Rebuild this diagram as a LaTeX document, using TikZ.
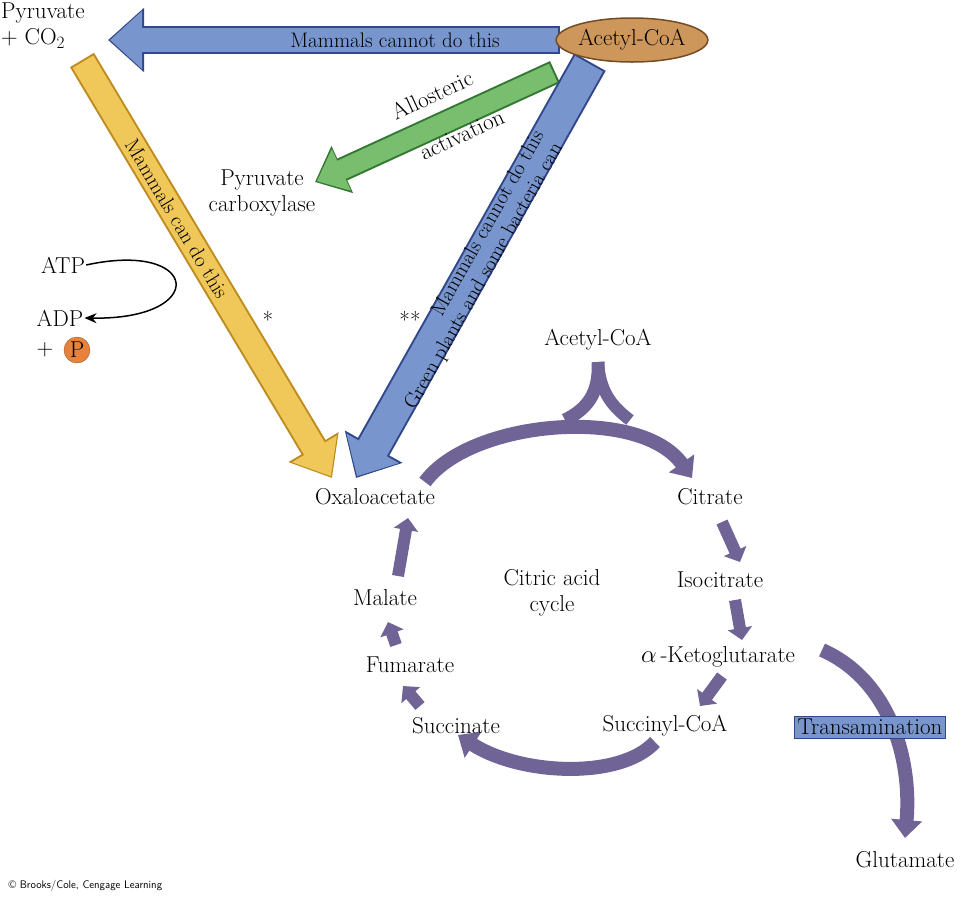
\documentclass[tikz,border=0pt]{standalone}
\usepackage{fontspec}
\usetikzlibrary{arrows.meta,calc,shapes.geometric}
\definecolor{cyc}{RGB}{112,100,150}
\definecolor{bl}{RGB}{120,150,205}
\definecolor{bld}{RGB}{50,70,140}
\definecolor{yl}{RGB}{240,200,90}
\definecolor{yld}{RGB}{190,140,30}
\definecolor{gr}{RGB}{120,190,110}
\definecolor{grd}{RGB}{50,120,50}
\definecolor{tan}{RGB}{205,150,90}
\definecolor{org}{RGB}{230,130,60}
\begin{document}
\begin{tikzpicture}[x=1pt,y=-1pt,
  lbl/.style={font=\fontsize{23}{26}\selectfont,inner sep=1pt,text=black},
  dl/.style={font=\fontsize{21}{24}\selectfont,inner sep=1pt,text=black},
  cyca/.style={draw=cyc,line width=14pt,-{Triangle[width=30pt,length=18pt]}},
  sm/.style={draw=cyc,line width=12pt,-{Triangle[width=24pt,length=12pt]}}]
\useasboundingbox (0,0) rectangle (966,898);
% coordinates
\coordinate (bs) at (560,40); \coordinate (bt) at (108,40);
\coordinate (gs) at (555,72); \coordinate (gt) at (315,182);
\coordinate (ys) at (82,60); \coordinate (yt) at (332,478);
\coordinate (ds) at (590,62); \coordinate (dt) at (356,478);
% blue top arrow
\draw[bld,line width=28pt,-{Triangle[width=62pt,length=36pt]}] (bs) -- (bt);
\draw[bl,line width=24pt,-{Triangle[width=56pt,length=32pt]},shorten >=2pt] ($(bs)+(-2,0)$) -- (bt);
\node[dl] (t1) at (395,40) {Mammals cannot do this};
% green arrow
\draw[grd,line width=24pt,-{Triangle[width=50pt,length=30pt]}] (gs) -- (gt);
\draw[gr,line width=20pt,-{Triangle[width=44pt,length=27pt]},shorten >=2pt] ($(gs)!2pt!(gt)$) -- (gt);
% yellow arrow
\draw[yld,line width=28pt,-{Triangle[width=56pt,length=36pt]}] (ys) -- (yt);
\draw[yl,line width=24pt,-{Triangle[width=50pt,length=32pt]},shorten >=2pt] ($(ys)!2pt!(yt)$) -- (yt);
\path (ys) -- (yt) node[dl,pos=0.38,sloped] (t2) {Mammals can do this};
% blue diagonal
\draw[bld,line width=36pt,-{Triangle[width=64pt,length=36pt]}] (ds) -- (dt);
\draw[bl,line width=32pt,-{Triangle[width=58pt,length=32pt]},shorten >=2pt] ($(ds)!2pt!(dt)$) -- (dt);
\path (dt) -- (ds) node[dl,pos=0.6,sloped,yshift=11pt] (t3) {Mammals cannot do this}
  node[dl,pos=0.5,sloped,yshift=-13pt] (t4) {Green plants and some bacteria can};
% acetyl-CoA ellipse
\node[lbl,draw=brown!60!black,line width=1.5pt,fill=tan,ellipse,minimum width=140pt,minimum height=44pt,inner sep=0pt] (ac) at (632,40) {Acetyl-CoA};
\node[lbl,align=left,anchor=north west] (pyr) at (0,2) {Pyruvate\\+ CO$_2$};
\node[lbl,rotate=25] (al) at (432,95) {Allosteric};
\node[lbl,rotate=25] (av) at (462,135) {activation};
\node[lbl,align=center] (pc) at (262,193) {Pyruvate\\carboxylase};
% ATP
\node[lbl] (atp) at (63,265) {ATP};
\node[lbl] (adp) at (60,318) {ADP};
\node[lbl] (plus) at (45,350) {+};
\node[circle,fill=org,draw=org!70!black,minimum size=26pt,inner sep=0pt,lbl] (p) at (77,350) {P};
\draw[line width=1.5pt,-{Stealth[length=12pt,width=10pt]}] (atp.east) .. controls (200,240) and (210,320) .. (adp.east);
\node[lbl] (s1) at (268,320) {*};
\node[lbl] (s2) at (410,320) {**};
% cycle arrows
\draw[cyca] (425,482) .. controls (470,420) and (640,405) .. (692,478);
\draw[draw=cyc,line width=13pt] (598,362) .. controls (600,395) and (585,410) .. (565,420);
\draw[draw=cyc,line width=12pt] (598,362) .. controls (600,390) and (610,405) .. (630,420);
\draw[sm] (722,522) -- (740,562);
\draw[sm] (735,600) -- (742,640);
\draw[sm] (722,676) -- (700,706);
\draw[cyca] (655,742) .. controls (620,780) and (520,775) .. (458,735);
\draw[sm] (420,706) -- (403,686);
\draw[sm] (396,645) -- (388,622);
\draw[sm] (398,576) -- (408,518);
\draw[cyca] (822,650) .. controls (890,680) and (912,760) .. (905,838);
% cycle labels
\node[lbl] (oaa) at (375,497) {Oxaloacetate};
\node[lbl] (cit) at (710,497) {Citrate};
\node[lbl] (iso) at (720,580) {Isocitrate};
\node[lbl] (akg) at (718,657) {$\alpha$\,-Ketoglutarate};
\node[lbl] (scoa) at (665,726) {Succinyl-CoA};
\node[lbl] (suc) at (456,726) {Succinate};
\node[lbl] (fum) at (410,665) {Fumarate};
\node[lbl] (mal) at (385,598) {Malate};
\node[lbl,align=center] (cac) at (552,593) {Citric acid\\cycle};
\node[lbl] (ac2) at (598,340) {Acetyl-CoA};
\node[lbl,fill=bl,draw=bld,line width=0.6pt,inner sep=3pt] (tr) at (870,727) {Transamination};
\node[lbl] (glu) at (905,860) {Glutamate};
\node[font=\sffamily\fontsize{11}{13}\selectfont,anchor=west] (cr) at (5,886) {\textcopyright\ Brooks/Cole, Cengage Learning};
\end{tikzpicture}
\end{document}
